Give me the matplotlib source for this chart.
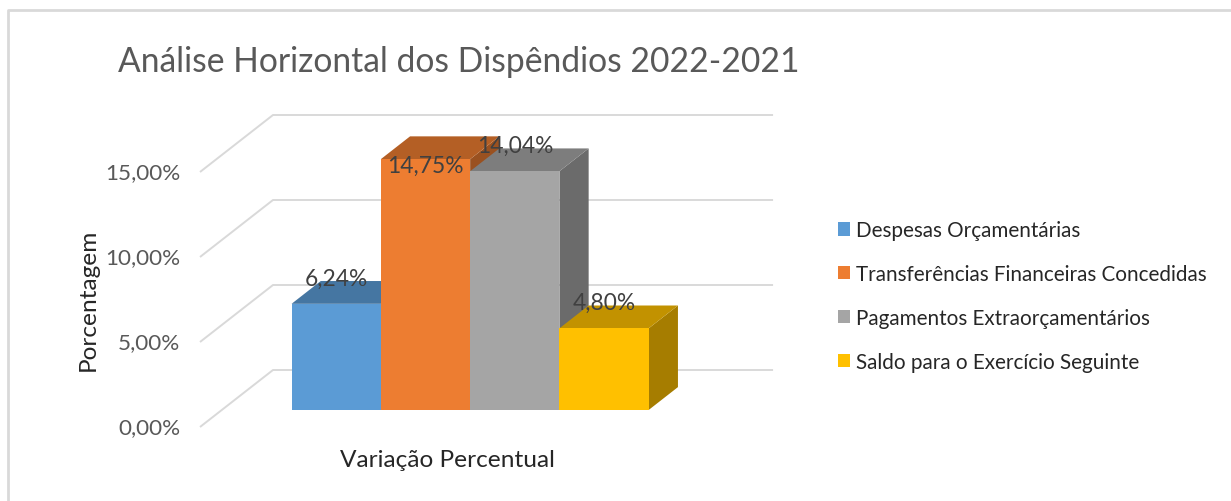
import matplotlib
matplotlib.use("Agg")
import matplotlib.pyplot as plt
from matplotlib.patches import Polygon, Patch
import matplotlib.colors as mcolors

# --- data ---
categories = [
    "Despesas Orçamentárias",
    "Transferências Financeiras Concedidas",
    "Pagamentos Extraorçamentários",
    "Saldo para o Exercício Seguinte",
]
values = [6.24, 14.75, 14.04, 4.80]          # percent
tick_values = [0, 5, 10, 15]
tick_labels = ["0,00%", "5,00%", "10,00%", "15,00%"]
title = "Análise Horizontal dos Dispêndios 2022-2021"
x_label = "Variação Percentual"
y_label = "Porcentagem"

# --- style ---
colors = ["#5B9BD5", "#ED7D31", "#A5A5A5", "#FFC000"]
label_dy = [1.5, -0.35, 1.5, 1.5]            # label offset above bar top (%)
FONT = "Lato"
W_PX, H_PX, DPI = 1231, 502, 100

# oblique 3D geometry (x in bar-width units, y in percent)
PX_PER_X = 89.3
PX_PER_Y = 17.0
ORIGIN_PX = (200, 428)          # front-left floor corner (pixel, from top)
DEPTH_X = 73 / PX_PER_X         # full depth offset, x units
DEPTH_Y = 57 / PX_PER_Y         # full depth offset, percent units
FLOOR_W = 5.6
GAP = 0.78                      # space between side wall and first bar
BAR_D0, BAR_D1 = 0.30, 0.70     # bar extent along depth


def shade(c, f):
    r, g, b = mcolors.to_rgb(c)
    return (r * f, g * f, b * f)


fig = plt.figure(figsize=(W_PX / DPI, H_PX / DPI), dpi=DPI)
ax = fig.add_axes([0, 0, 1, 1])
ax.set_xlim(-ORIGIN_PX[0] / PX_PER_X, (W_PX - ORIGIN_PX[0]) / PX_PER_X)
ax.set_ylim(-(H_PX - ORIGIN_PX[1]) / PX_PER_Y, ORIGIN_PX[1] / PX_PER_Y)
ax.axis("off")

# chart-area border
fig.add_artist(plt.Line2D([8 / W_PX, 8 / W_PX, 1], [0, 1 - 11 / H_PX, 1 - 11 / H_PX],
                          transform=fig.transFigure, color="#D9D9D9", lw=2))

# gridlines on side wall and back wall
grid_kw = dict(color="#D9D9D9", lw=1.4, zorder=1, solid_capstyle="butt")
for t, lab in zip(tick_values, tick_labels):
    ax.plot([0, DEPTH_X, DEPTH_X + FLOOR_W], [t, t + DEPTH_Y, t + DEPTH_Y], **grid_kw)
    ax.text(-0.22, t, lab, ha="right", va="center", fontsize=16.2,
            color="#595959", family=FONT)

# bars, drawn left to right so each one hides its neighbour's side face
ox0, oy0 = BAR_D0 * DEPTH_X, BAR_D0 * DEPTH_Y
dd_x, dd_y = (BAR_D1 - BAR_D0) * DEPTH_X, (BAR_D1 - BAR_D0) * DEPTH_Y
for i, (v, c) in enumerate(zip(values, colors)):
    x0 = GAP + i + ox0
    x1 = x0 + 1
    y0, y1 = oy0, oy0 + v
    side = Polygon([(x1, y0), (x1 + dd_x, y0 + dd_y), (x1 + dd_x, y1 + dd_y), (x1, y1)],
                   closed=True, fc=shade(c, 0.65), ec="none", zorder=2)
    top = Polygon([(x0, y1), (x1, y1), (x1 + dd_x, y1 + dd_y), (x0 + dd_x, y1 + dd_y)],
                  closed=True, fc=shade(c, 0.76), ec="none", zorder=2)
    front = Polygon([(x0, y0), (x1, y0), (x1, y1), (x0, y1)],
                    closed=True, fc=c, ec="none", zorder=2)
    for p in (side, top, front):
        ax.add_patch(p)

for i, v in enumerate(values):
    xc = GAP + i + ox0 + 0.5
    ax.text(xc, oy0 + v + label_dy[i], f"{v:.2f}%".replace(".", ","),
            ha="center", va="center", fontsize=16.4, color="#404040",
            family=FONT, zorder=5)

# titles
fig.text(118 / W_PX, 1 - 62 / H_PX, title, ha="left", va="center",
         fontsize=24.2, color="#595959", family=FONT)
fig.text(447 / W_PX, 1 - 461 / H_PX, x_label, ha="center", va="center",
         fontsize=17.6, color="#262626", family=FONT)
fig.text(88 / W_PX, 1 - 300 / H_PX, y_label, ha="center", va="center",
         rotation=90, fontsize=17.6, color="#262626", family=FONT)

# legend
handles = [Patch(fc=c, ec="none") for c in colors]
fig.legend(handles, categories, loc="center left",
           bbox_to_anchor=(838 / W_PX, 1 - 297 / H_PX), frameon=False,
           prop={"family": FONT, "size": 14.9}, labelcolor="#262626",
           handlelength=0.6, handleheight=0.6, handletextpad=0.25,
           labelspacing=1.15, borderpad=0, borderaxespad=0)

fig.savefig("out.png", dpi=DPI, facecolor="white")
